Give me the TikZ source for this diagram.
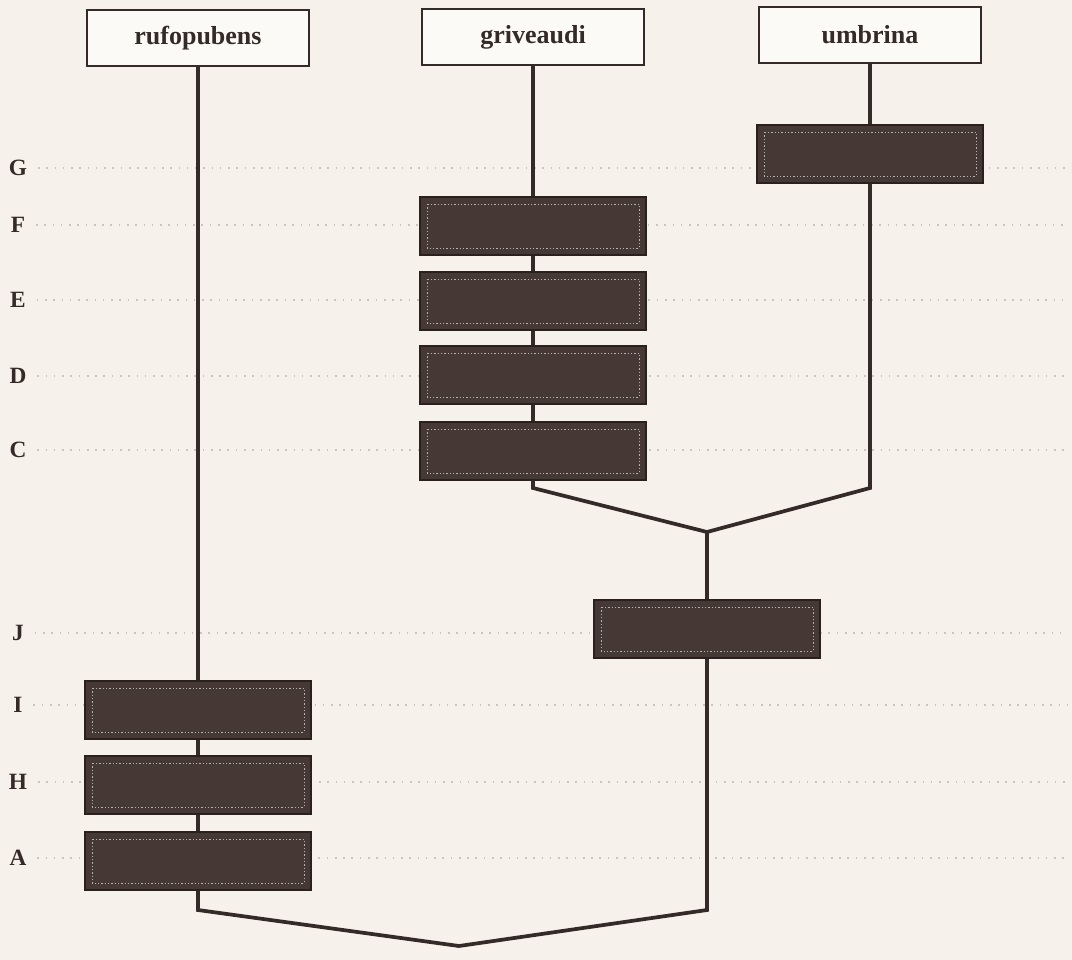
\documentclass[tikz,border=0pt]{standalone}
\usepackage{fontspec}
\setmainfont{Liberation Serif}
\definecolor{paper}{RGB}{246,242,235}
\definecolor{ink}{RGB}{52,42,40}
\definecolor{boxfill}{RGB}{70,56,53}
\definecolor{boxedge}{RGB}{42,32,30}
\definecolor{guide}{RGB}{200,196,190}
\tikzset{
  px/.style={x=0.75pt,y=-0.75pt},
  taxon/.style={draw=ink, line width=1.6pt, fill=white!60!paper, minimum width=166pt, minimum height=42pt, inner sep=0pt, font=\fontsize{19.5}{22}\selectfont\bfseries, text=ink},
  darkbox/.style={draw=boxedge, line width=1.5pt, fill=boxfill, minimum width=169pt, minimum height=43pt, inner sep=0pt,
    path picture={\draw[black!30!white, line width=0.6pt, dash pattern=on 1pt off 1.5pt]
      ([shift={(5pt,-5pt)}]path picture bounding box.north west) rectangle ([shift={(-5pt,5pt)}]path picture bounding box.south east);}},
  rowlabel/.style={font=\fontsize{17.5}{20}\selectfont\bfseries, text=ink, inner sep=0pt},
  branch/.style={draw=ink, line width=2.8pt, line join=miter},
  guideline/.style={draw=guide, line width=0.8pt, dash pattern=on 1.2pt off 5pt}
}
\begin{document}
\begin{tikzpicture}[px]
\fill[paper] (0,0) rectangle (1072,960);
\useasboundingbox (0,0) rectangle (1072,960);
% row labels
\node[rowlabel] (lG) at (18,168) {G};
\node[rowlabel] (lF) at (18,225) {F};
\node[rowlabel] (lE) at (18,300) {E};
\node[rowlabel] (lD) at (18,376) {D};
\node[rowlabel] (lC) at (18,450) {C};
\node[rowlabel] (lJ) at (18,633) {J};
\node[rowlabel] (lI) at (18,705) {I};
\node[rowlabel] (lH) at (18,782) {H};
\node[rowlabel] (lA) at (18,858) {A};
% faint guide lines
\foreach \r in {lG,lF,lE,lD,lC,lJ,lI,lH,lA}{
  \coordinate (\r end) at (1068,0);
  \draw[guideline] (\r.east) ++(8pt,0) -- (\r end |- \r.east);
}
% taxa
\node[taxon] (ruf) at (198,38) {rufopubens};
\node[taxon] (gri) at (533,37) {griveaudi};
\node[taxon] (umb) at (870,35) {umbrina};
% character boxes
\node[darkbox] (G) at (870,154) {};
\node[darkbox] (F) at (533,226) {};
\node[darkbox] (E) at (533,301) {};
\node[darkbox] (D) at (533,375) {};
\node[darkbox] (C) at (533,451) {};
\node[darkbox] (J) at (707,629) {};
\node[darkbox] (I) at (198,710) {};
\node[darkbox] (H) at (198,785) {};
\node[darkbox] (A) at (198,861) {};
% junctions
\coordinate (cL) at (533,488);
\coordinate (cR) at (870,488);
\coordinate (n1) at (707,532);
\coordinate (aL) at (198,910);
\coordinate (aR) at (707,910);
\coordinate (root) at (459,946);
% branches
\draw[branch] (ruf.south) -- (I.north);
\draw[branch] (I.south) -- (H.north);
\draw[branch] (H.south) -- (A.north);
\draw[branch] (gri.south) -- (F.north);
\draw[branch] (F.south) -- (E.north);
\draw[branch] (E.south) -- (D.north);
\draw[branch] (D.south) -- (C.north);
\draw[branch] (umb.south) -- (G.north);
\draw[branch] (C.south) -- (cL) -- (n1);
\draw[branch] (G.south) -- (cR) -- (n1);
\draw[branch] (n1) -- (J.north);
\draw[branch] (J.south) -- (aR) -- (root);
\draw[branch] (A.south) -- (aL) -- (root);
\end{tikzpicture}
\end{document}
